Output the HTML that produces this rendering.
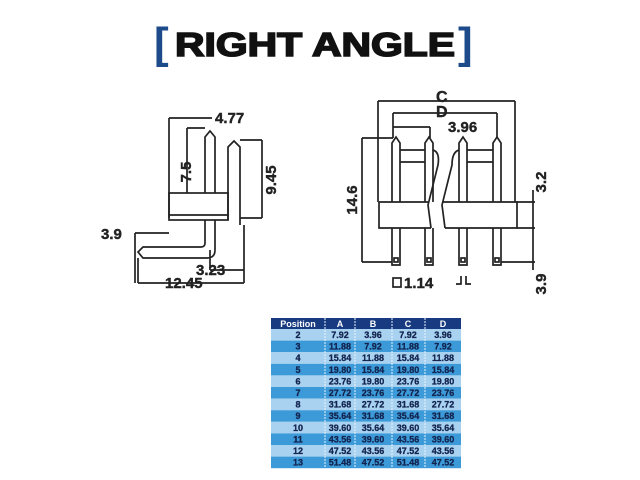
<!DOCTYPE html>
<html><head><meta charset="utf-8"><style>
body{margin:0;width:640px;height:480px;background:#fff;overflow:hidden;font-family:"Liberation Sans",sans-serif}
svg{position:absolute;left:0;top:0}
</style></head><body>
<svg width="640" height="480" viewBox="0 0 640 480" xmlns="http://www.w3.org/2000/svg">
<!-- Title -->
<text x="154" y="58" font-size="44" font-weight="bold" fill="#1d4a8a" font-family="Liberation Sans">[</text>
<text x="175" y="56" font-size="33" font-weight="900" fill="#111" font-family="Liberation Sans" stroke="#111" stroke-width="1.6" textLength="280" lengthAdjust="spacingAndGlyphs">RIGHT ANGLE</text>
<text x="458" y="58" font-size="44" font-weight="bold" fill="#1d4a8a" font-family="Liberation Sans">]</text>

<g fill="none" stroke="#222" stroke-width="1.7">
<!-- LEFT DRAWING -->
<path d="M169 118 H212 M169 118 V218"/>
<path d="M205 193 V137 L210 131 L215 137 V193"/>
<path d="M187 128 H205 M187 128 V193"/>
<rect x="169" y="193" width="59" height="27"/>
<path d="M169 215 H228"/>
<path d="M228 220 V147 L234 141 L240 147 V225"/>
<path d="M240 140 H262 M262 140 V218 M240 218 H262"/>
<path d="M205 220 V243 Q205 247 201 247 H143 L138 252 L143 258 H207 Q215 258 215 250 V220"/>
<path d="M135 233 H169 M135 233 V283"/>
<path d="M210 270 H244 M210 250 V270"/>
<path d="M244 225 V283 M138 283 H244 M138 258 V283"/>
<!-- RIGHT DRAWING -->
<path d="M378 101 H515 M378 101 V202 M515 101 V202"/>
<path d="M393 113 H497 M393 113 V138 M497 113 V138"/>
<path d="M393 127 H430 M430 127 V138"/>
<path d="M392 202 V143 L396 137 L400 143 V202"/>
<path d="M425 202 V143 L429 137 L433 143 V202"/>
<path d="M459 202 V143 L463 137 L467 143 V202"/>
<path d="M493 202 V143 L497 137 L501 143 V202"/>
<path d="M400 150 H425 M400 162 H425 M467 150 H493 M467 162 H493"/>
<path d="M433 150 Q440 152 438 165 L428 205 L431 228 M459 150 Q452 152 452 165 L442 205 L445 228"/>
<path d="M379 202 H428 M443 202 H517 V228 H445 M431 228 H379 V202"/>
<path d="M392 228 V265 H400 V228 M425 228 V265 H433 V228 M459 228 V265 H467 V228 M493 228 V265 H501 V228"/>
<rect x="394" y="258" width="4" height="4"/><rect x="427" y="258" width="4" height="4"/><rect x="461" y="258" width="4" height="4"/><rect x="495" y="258" width="4" height="4"/>
<path d="M362 138 H393 M362 138 V262 M362 262 H392"/>
<path d="M517 202 H535 M533 190 V228 M517 228 H535 M533 228 V270 M501 262 H535"/>
<path d="M456 284 H461 V276 M466 276 V284 H471"/>
<rect x="393" y="278" width="8" height="9"/>
</g>
<g font-family="Liberation Sans" font-weight="bold" font-size="15" fill="#222" stroke="#222" stroke-width="0.4">
<text x="215" y="123">4.77</text>
<text x="191" y="172" transform="rotate(-90 191 172)" text-anchor="middle">7.5</text>
<text x="276" y="180" transform="rotate(-90 276 180)" text-anchor="middle">9.45</text>
<text x="101" y="239">3.9</text>
<text x="196" y="275">3.23</text>
<text x="165" y="288">12.45</text>
<text x="436" y="102" font-size="16">C</text>
<text x="436" y="117" font-size="16">D</text>
<text x="448" y="132">3.96</text>
<text x="357" y="200" transform="rotate(-90 357 200)" text-anchor="middle">14.6</text>
<text x="546" y="182" transform="rotate(-90 546 182)" text-anchor="middle">3.2</text>
<text x="546" y="284" transform="rotate(-90 546 284)" text-anchor="middle">3.9</text>
<text x="404" y="288">1.14</text>
</g>
<!-- TABLE -->
<g font-family="Liberation Sans" font-weight="bold" font-size="9" text-anchor="middle">
<rect x="271" y="318" width="190" height="11" fill="#183a80"/>
<g fill="#fff"><text x="298" y="327">Position</text><text x="340" y="327">A</text><text x="373" y="327">B</text><text x="408" y="327">C</text><text x="443" y="327">D</text></g>
</g>
<g font-family="Liberation Sans" font-weight="bold" font-size="9" text-anchor="middle" fill="#13244f">
<rect x="271" y="329" width="190" height="11.6" fill="#a8d2f0"/>
<rect x="271" y="340.6" width="190" height="11.6" fill="#3d9ad8"/>
<rect x="271" y="352.2" width="190" height="11.6" fill="#a8d2f0"/>
<rect x="271" y="363.8" width="190" height="11.6" fill="#3d9ad8"/>
<rect x="271" y="375.4" width="190" height="11.6" fill="#a8d2f0"/>
<rect x="271" y="387" width="190" height="11.6" fill="#3d9ad8"/>
<rect x="271" y="398.6" width="190" height="11.6" fill="#a8d2f0"/>
<rect x="271" y="410.2" width="190" height="11.6" fill="#3d9ad8"/>
<rect x="271" y="421.8" width="190" height="11.6" fill="#a8d2f0"/>
<rect x="271" y="433.4" width="190" height="11.6" fill="#3d9ad8"/>
<rect x="271" y="445" width="190" height="11.6" fill="#a8d2f0"/>
<rect x="271" y="456.6" width="190" height="11.6" fill="#3d9ad8"/>
<g stroke="#e8f4ff" stroke-width="1" stroke-dasharray="2 1"><path d="M325 318 V468 M355 318 V468 M392 318 V468 M425 318 V468"/></g>
<g stroke="#13244f" stroke-width="0.3">
<text x="298" y="338">2</text><text x="340" y="338">7.92</text><text x="373" y="338">3.96</text><text x="408" y="338">7.92</text><text x="443" y="338">3.96</text>
<text x="298" y="349.6">3</text><text x="340" y="349.6">11.88</text><text x="373" y="349.6">7.92</text><text x="408" y="349.6">11.88</text><text x="443" y="349.6">7.92</text>
<text x="298" y="361.2">4</text><text x="340" y="361.2">15.84</text><text x="373" y="361.2">11.88</text><text x="408" y="361.2">15.84</text><text x="443" y="361.2">11.88</text>
<text x="298" y="372.8">5</text><text x="340" y="372.8">19.80</text><text x="373" y="372.8">15.84</text><text x="408" y="372.8">19.80</text><text x="443" y="372.8">15.84</text>
<text x="298" y="384.4">6</text><text x="340" y="384.4">23.76</text><text x="373" y="384.4">19.80</text><text x="408" y="384.4">23.76</text><text x="443" y="384.4">19.80</text>
<text x="298" y="396">7</text><text x="340" y="396">27.72</text><text x="373" y="396">23.76</text><text x="408" y="396">27.72</text><text x="443" y="396">23.76</text>
<text x="298" y="407.6">8</text><text x="340" y="407.6">31.68</text><text x="373" y="407.6">27.72</text><text x="408" y="407.6">31.68</text><text x="443" y="407.6">27.72</text>
<text x="298" y="419.2">9</text><text x="340" y="419.2">35.64</text><text x="373" y="419.2">31.68</text><text x="408" y="419.2">35.64</text><text x="443" y="419.2">31.68</text>
<text x="298" y="430.8">10</text><text x="340" y="430.8">39.60</text><text x="373" y="430.8">35.64</text><text x="408" y="430.8">39.60</text><text x="443" y="430.8">35.64</text>
<text x="298" y="442.4">11</text><text x="340" y="442.4">43.56</text><text x="373" y="442.4">39.60</text><text x="408" y="442.4">43.56</text><text x="443" y="442.4">39.60</text>
<text x="298" y="454">12</text><text x="340" y="454">47.52</text><text x="373" y="454">43.56</text><text x="408" y="454">47.52</text><text x="443" y="454">43.56</text>
<text x="298" y="465.6">13</text><text x="340" y="465.6">51.48</text><text x="373" y="465.6">47.52</text><text x="408" y="465.6">51.48</text><text x="443" y="465.6">47.52</text>
</g>
</g>
</svg>
</body></html>
